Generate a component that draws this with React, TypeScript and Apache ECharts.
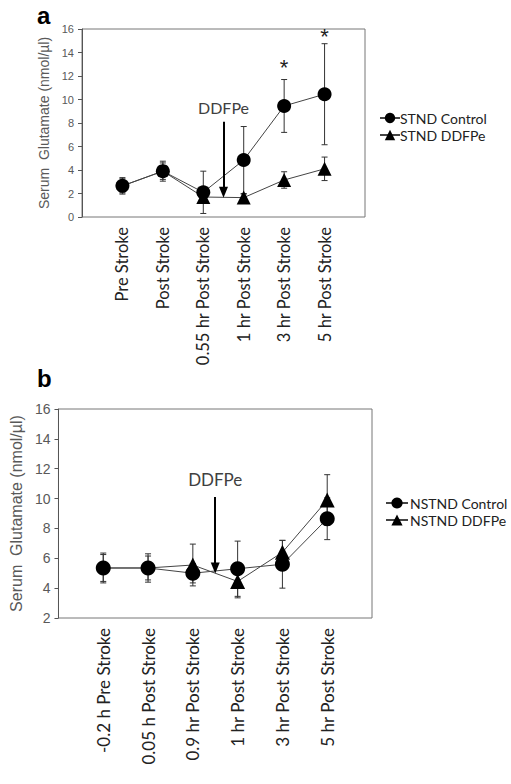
import React, { useEffect, useRef } from "react";
import * as echarts from "echarts";

const catsA = ["Pre Stroke", "Post Stroke", "0.55 hr Post Stroke", "1 hr Post Stroke", "3 hr Post Stroke", "5 hr Post Stroke"];
const ctrlA = [2.65, 3.9, 2.1, 4.85, 9.45, 10.45];
const ctrlAErr = [0.7, 0.85, 1.8, 2.85, 2.25, 4.3];
const ddfpA = [2.65, 3.9, 1.7, 1.65, 3.15, 4.1];
const ddfpAErr = [0.6, 0.7, 0.4, 0.3, 0.7, 1.0];

const catsB = ["-0.2 h Pre Stroke", "0.05 h Post Stroke", "0.9 hr Post Stroke", "1 hr Post Stroke", "3 hr Post Stroke", "5 hr Post Stroke"];
const ctrlB = [5.35, 5.35, 5.0, 5.3, 5.6, 8.65];
const ctrlBErr = [1.0, 0.95, 0.65, 1.85, 1.6, 1.4];
const ddfpB = [5.35, 5.35, 5.55, 4.45, 6.4, 9.9];
const ddfpBErr = [0.9, 0.8, 1.4, 1.1, 0.8, 1.7];
// points where the DDFPe marker is hidden behind the control marker
const hiddenDdfp = [0, 1];

const yTicksA = { min: 0, max: 16, interval: 2 };
const yTicksB = { min: 2, max: 16, interval: 2 };

const arrowA = { x: 3.5, from: 8.1, to: 2.1, text: 9.35 };
const arrowB = { x: 3.5, from: 10.1, to: 5.35, text: 11.25 };
const starsA = [[5, 12.9], [6, 15.55]];

const CAL = "Lato, 'Open Sans', sans-serif";
const ARIAL = "'Liberation Sans', Arial, sans-serif";

function pts(vals: number[], hidden: number[] = []) {
  return vals.map((v, i) => (hidden.includes(i) ? { value: [i + 1, v], symbol: "none" } : [i + 1, v]));
}
function errs(vals: number[], e: number[]) {
  return vals.map((v, i) => [i + 1, v - e[i], v + e[i]]);
}

const errRender = (params: any, api: any) => {
  const x = api.value(0);
  const lo = api.coord([x, api.value(1)]);
  const hi = api.coord([x, api.value(2)]);
  const c = 3;
  const st = { stroke: "#333", lineWidth: 1 };
  return {
    type: "group",
    children: [
      { type: "line", shape: { x1: hi[0], y1: hi[1], x2: lo[0], y2: lo[1] }, style: st },
      { type: "line", shape: { x1: hi[0] - c, y1: hi[1], x2: hi[0] + c, y2: hi[1] }, style: st },
      { type: "line", shape: { x1: lo[0] - c, y1: lo[1], x2: lo[0] + c, y2: lo[1] }, style: st },
    ],
  };
};

export default function App() {
  const ref = useRef<HTMLDivElement>(null);
  useEffect(() => {
    if (!ref.current) return;
    const chart = echarts.init(ref.current, null, { renderer: "svg" });
    const xAxisBase = (cats: string[], gi: number, fs: number) => ({
      type: "value",
      gridIndex: gi,
      min: 0,
      max: 7,
      interval: 1,
      axisLine: { show: false },
      axisTick: { show: false },
      splitLine: { show: false },
      axisLabel: {
        rotate: 90,
        margin: 10,
        fontFamily: CAL,
        fontSize: fs,
        color: "#222",
        formatter: (v: number) => cats[v - 1] || "",
      },
    });
    const yAxisBase = (t: any, gi: number, fs: number, nfs: number, gap: number) => ({
      type: "value",
      gridIndex: gi,
      min: t.min,
      max: t.max,
      interval: t.interval,
      name: "Serum  Glutamate (nmol/µl)",
      nameLocation: "middle",
      nameGap: gap,
      nameTextStyle: { fontFamily: ARIAL, fontSize: nfs, color: "#595959" },
      axisLine: { show: true, lineStyle: { color: "#555", width: 1 } },
      axisTick: { show: true, length: 4, lineStyle: { color: "#555" } },
      splitLine: { show: false },
      axisLabel: { fontFamily: ARIAL, fontSize: fs, color: "#595959", margin: 8 },
    });
    const lineSeries = (name: string, data: any[], gi: number, sym: string, size: number, extra: any = {}) => ({
      type: "line",
      name,
      xAxisIndex: gi,
      yAxisIndex: gi,
      data,
      symbol: sym,
      symbolSize: size,
      showAllSymbol: true,
      itemStyle: { color: "#000" },
      lineStyle: { color: "#444", width: 1 },
      z: 3,
      ...extra,
    });
    const errSeries = (vals: number[], e: number[], gi: number) => ({
      type: "custom",
      xAxisIndex: gi,
      yAxisIndex: gi,
      data: errs(vals, e),
      renderItem: errRender,
      z: 2,
      silent: true,
    });
    const arrowMark = (a: any, fs: number, stars: number[][]) => ({
      markLine: {
        silent: true,
        symbol: ["none", "triangle"],
        symbolSize: [9, 11],
        label: { show: false },
        lineStyle: { color: "#000", width: 2, type: "solid" },
        data: [[{ coord: [a.x, a.from] }, { coord: [a.x, a.to] }]],
      },
      markPoint: {
        silent: true,
        symbol: "circle",
        symbolSize: 1,
        itemStyle: { color: "rgba(0,0,0,0)" },
        data: [
          {
            coord: [a.x, a.text],
            label: { show: true, position: "inside", formatter: "DDFPe", fontFamily: CAL, fontSize: fs, color: "#404040" },
          },
          ...stars.map((s) => ({
            coord: s,
            label: { show: true, position: "inside", formatter: "*", fontFamily: ARIAL, fontSize: 22, color: "#222", offset: [0, 2] },
          })),
        ],
      },
    });
    chart.setOption({
      animation: false,
      backgroundColor: "#fff",
      grid: [
        { left: 82, top: 29, width: 283, height: 188, show: true, borderColor: "#777", borderWidth: 1 },
        { left: 57, top: 409, width: 315, height: 209, show: true, borderColor: "#777", borderWidth: 1 },
      ],
      xAxis: [xAxisBase(catsA, 0, 16.5), xAxisBase(catsB, 1, 17)],
      yAxis: [yAxisBase(yTicksA, 0, 11, 14, 30), yAxisBase(yTicksB, 1, 14, 16, 30)],
      legend: [
        {
          data: ["STND Control", "STND DDFPe"],
          left: 374,
          top: 106,
          orient: "vertical",
          itemWidth: 20,
          itemHeight: 13,
          itemGap: 3,
          textStyle: { fontFamily: CAL, fontSize: 14, color: "#222", padding: [0, 0, 0, -5] },
        },
        {
          data: ["NSTND Control", "NSTND DDFPe"],
          left: 380,
          top: 491,
          orient: "vertical",
          itemWidth: 22,
          itemHeight: 14,
          itemGap: 3,
          textStyle: { fontFamily: CAL, fontSize: 14, color: "#222", padding: [0, 0, 0, -3] },
        },
      ],
      graphic: [
        { type: "text", left: 37, top: 3, style: { text: "a", font: `bold 24px ${ARIAL}`, fill: "#000" } },
        { type: "text", left: 37, top: 366, style: { text: "b", font: `bold 24px ${ARIAL}`, fill: "#000" } },
      ],
      series: [
        errSeries(ctrlA, ctrlAErr, 0),
        errSeries(ddfpA, ddfpAErr, 0),
        lineSeries("STND DDFPe", pts(ddfpA, hiddenDdfp), 0, "triangle", 14),
        lineSeries("STND Control", pts(ctrlA), 0, "circle", 14, arrowMark(arrowA, 16, starsA)),
        errSeries(ctrlB, ctrlBErr, 1),
        errSeries(ddfpB, ddfpBErr, 1),
        lineSeries("NSTND DDFPe", pts(ddfpB, hiddenDdfp), 1, "triangle", 15),
        lineSeries("NSTND Control", pts(ctrlB), 1, "circle", 15, arrowMark(arrowB, 17, [])),
      ],
    });
    return () => chart.dispose();
  }, []);
  return <div ref={ref} style={{ position: "absolute", left: 0, top: 0, width: 511, height: 784 }} />;
}
